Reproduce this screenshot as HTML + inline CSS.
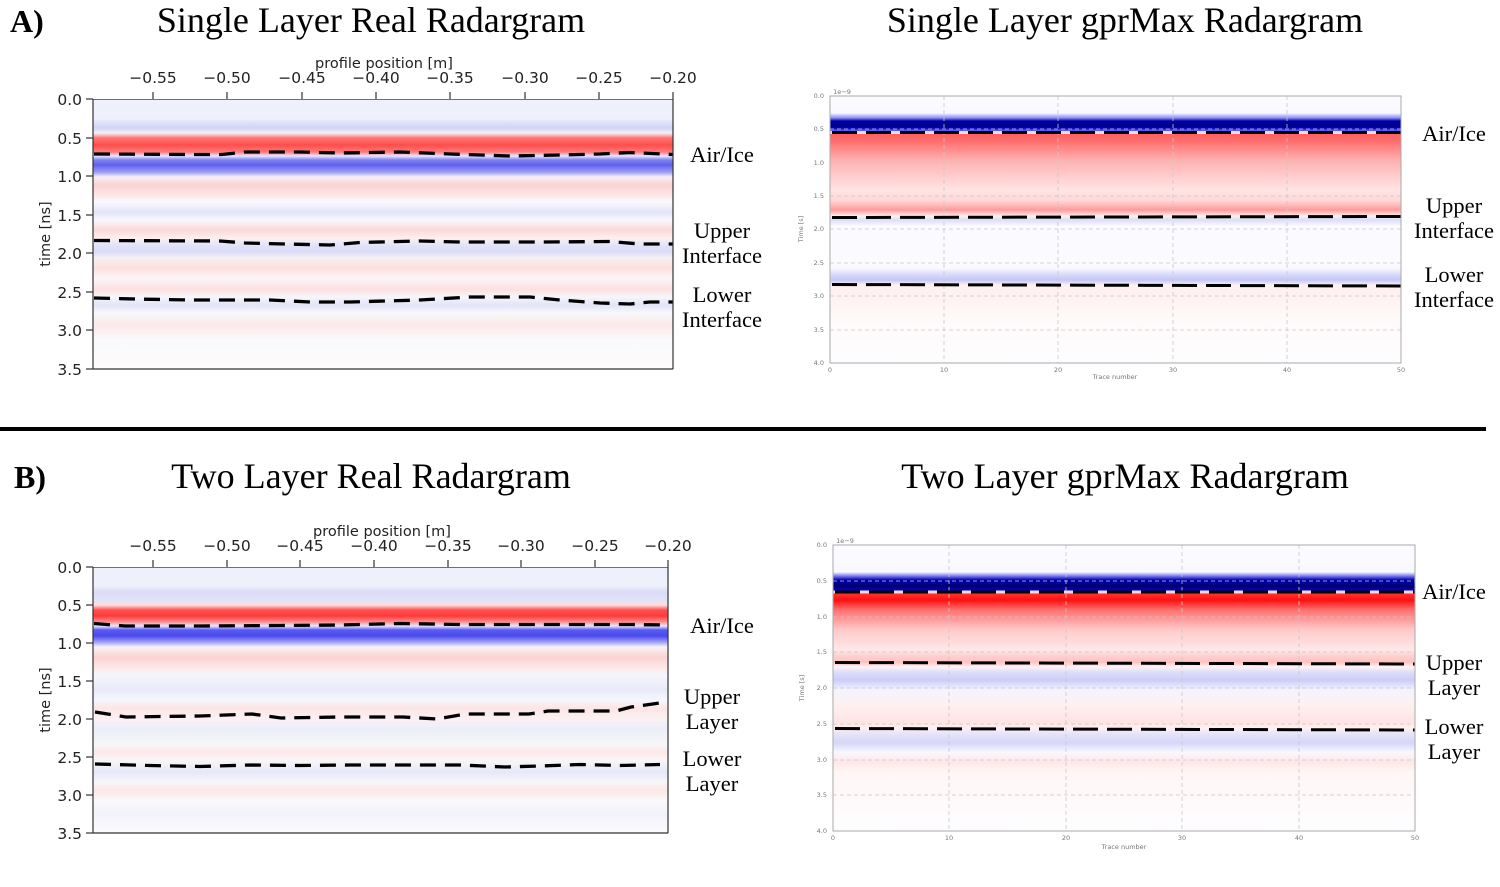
<!DOCTYPE html>
<html><head><meta charset="utf-8"><style>
html,body{margin:0;padding:0;background:#fff;}
svg{display:block;}
.serif{font-family:"Liberation Serif",serif;}
.sans{font-family:"DejaVu Sans","Liberation Sans",sans-serif;}
</style></head><body>
<svg width="1500" height="887" viewBox="0 0 1500 887" xmlns="http://www.w3.org/2000/svg">
<defs>
<linearGradient id="ar" gradientUnits="userSpaceOnUse" x1="0" y1="0" x2="0" y2="1000">
<stop offset="0.099" stop-color="#eef0fb"/><stop offset="0.119" stop-color="#eef0fb"/>
<stop offset="0.122" stop-color="#e0e3f8"/><stop offset="0.128" stop-color="#d0d4f6"/>
<stop offset="0.133" stop-color="#f4f0f6"/><stop offset="0.138" stop-color="#ff7474"/>
<stop offset="0.145" stop-color="#ff4d4d"/><stop offset="0.152" stop-color="#ff7a7a"/>
<stop offset="0.156" stop-color="#e8e8ff"/><stop offset="0.160" stop-color="#8080f2"/>
<stop offset="0.165" stop-color="#6060f0"/><stop offset="0.172" stop-color="#9c9cf4"/>
<stop offset="0.177" stop-color="#f8f0f4"/><stop offset="0.185" stop-color="#fbd2d2"/>
<stop offset="0.195" stop-color="#fde6e6"/><stop offset="0.202" stop-color="#fafafd"/>
<stop offset="0.212" stop-color="#e2e4f8"/><stop offset="0.220" stop-color="#f8f8fd"/>
<stop offset="0.230" stop-color="#fcd8d8"/><stop offset="0.238" stop-color="#fdf0f0"/>
<stop offset="0.246" stop-color="#e0e2f8"/><stop offset="0.252" stop-color="#dadcf8"/>
<stop offset="0.258" stop-color="#f8f0f2"/><stop offset="0.268" stop-color="#fde0e0"/>
<stop offset="0.278" stop-color="#fbf6f8"/><stop offset="0.290" stop-color="#fce0e0"/>
<stop offset="0.297" stop-color="#f6f6fb"/><stop offset="0.305" stop-color="#e2e4f8"/>
<stop offset="0.313" stop-color="#f8f8fb"/><stop offset="0.325" stop-color="#fde8e8"/>
<stop offset="0.340" stop-color="#fafafc"/><stop offset="0.369" stop-color="#fdfbfb"/>
</linearGradient>
<linearGradient id="as" gradientUnits="userSpaceOnUse" x1="0" y1="0" x2="0" y2="1000">
<stop offset="0.096" stop-color="#fcfcff"/><stop offset="0.113" stop-color="#f8f8ff"/>
<stop offset="0.118" stop-color="#8a8af0"/><stop offset="0.121" stop-color="#0000b0"/>
<stop offset="0.125" stop-color="#000080"/><stop offset="0.128" stop-color="#0000c0"/>
<stop offset="0.131" stop-color="#6a6af5"/><stop offset="0.133" stop-color="#ff6060"/>
<stop offset="0.140" stop-color="#ff6a6a"/><stop offset="0.160" stop-color="#ffb0b0"/>
<stop offset="0.190" stop-color="#ffe4e4"/><stop offset="0.200" stop-color="#ffdada"/>
<stop offset="0.210" stop-color="#ff9a9a"/><stop offset="0.216" stop-color="#fff0f0"/>
<stop offset="0.220" stop-color="#dcdcfa"/><stop offset="0.226" stop-color="#fafaff"/>
<stop offset="0.268" stop-color="#fbfbff"/><stop offset="0.275" stop-color="#d6d8fa"/>
<stop offset="0.280" stop-color="#c4c6f8"/><stop offset="0.285" stop-color="#fff0f0"/>
<stop offset="0.300" stop-color="#fff2f2"/><stop offset="0.320" stop-color="#fffafa"/>
<stop offset="0.363" stop-color="#fdfdff"/>
</linearGradient>
<linearGradient id="br" gradientUnits="userSpaceOnUse" x1="0" y1="0" x2="0" y2="1000">
<stop offset="0.567" stop-color="#eef0fb"/><stop offset="0.586" stop-color="#eef0fb"/>
<stop offset="0.592" stop-color="#dadcf8"/><stop offset="0.600" stop-color="#e0e2f8"/>
<stop offset="0.605" stop-color="#fbe0e0"/><stop offset="0.610" stop-color="#ff5050"/>
<stop offset="0.616" stop-color="#ff3a3a"/><stop offset="0.622" stop-color="#ff9090"/>
<stop offset="0.626" stop-color="#e8e8ff"/><stop offset="0.630" stop-color="#5a5af0"/>
<stop offset="0.636" stop-color="#4a4aee"/><stop offset="0.642" stop-color="#a0a0f4"/>
<stop offset="0.647" stop-color="#f8f2f4"/><stop offset="0.657" stop-color="#fcd2d2"/>
<stop offset="0.667" stop-color="#fde6e6"/><stop offset="0.675" stop-color="#f6f6fc"/>
<stop offset="0.690" stop-color="#e8eaf9"/><stop offset="0.700" stop-color="#f6f6fc"/>
<stop offset="0.708" stop-color="#fce4e4"/><stop offset="0.718" stop-color="#fbf0f2"/>
<stop offset="0.730" stop-color="#eceefa"/><stop offset="0.745" stop-color="#f8f6f8"/>
<stop offset="0.752" stop-color="#fce8e8"/><stop offset="0.760" stop-color="#f9f6f8"/>
<stop offset="0.772" stop-color="#e6e8f9"/><stop offset="0.782" stop-color="#f8f6f8"/>
<stop offset="0.790" stop-color="#fce6e6"/><stop offset="0.800" stop-color="#faf8fa"/>
<stop offset="0.815" stop-color="#f2f3fb"/><stop offset="0.833" stop-color="#fcfbfc"/>
</linearGradient>
<linearGradient id="bs" gradientUnits="userSpaceOnUse" x1="0" y1="0" x2="0" y2="1000">
<stop offset="0.545" stop-color="#fcfcff"/><stop offset="0.572" stop-color="#f8f8ff"/>
<stop offset="0.576" stop-color="#7a7af0"/><stop offset="0.580" stop-color="#0000b0"/>
<stop offset="0.586" stop-color="#000070"/><stop offset="0.590" stop-color="#0000c0"/>
<stop offset="0.594" stop-color="#ff3030"/><stop offset="0.600" stop-color="#ff1010"/>
<stop offset="0.610" stop-color="#ff7070"/><stop offset="0.630" stop-color="#ffcaca"/>
<stop offset="0.650" stop-color="#ffe8e8"/><stop offset="0.656" stop-color="#ffd0d0"/>
<stop offset="0.662" stop-color="#ffc0c0"/><stop offset="0.667" stop-color="#fff4f4"/>
<stop offset="0.672" stop-color="#dedefa"/><stop offset="0.680" stop-color="#ccccf8"/>
<stop offset="0.690" stop-color="#f4f4ff"/><stop offset="0.705" stop-color="#fff0f0"/>
<stop offset="0.722" stop-color="#ffe4e4"/><stop offset="0.728" stop-color="#fff0f0"/>
<stop offset="0.735" stop-color="#e2e2fa"/><stop offset="0.743" stop-color="#d6d6f8"/>
<stop offset="0.752" stop-color="#f8f8ff"/><stop offset="0.762" stop-color="#ffe6e6"/>
<stop offset="0.772" stop-color="#fff6f6"/><stop offset="0.831" stop-color="#fdfdff"/>
</linearGradient>
</defs>

<!-- Titles -->
<text x="10" y="32" class="serif" font-size="32" font-weight="bold">A)</text>
<text x="371" y="32" class="serif" font-size="36" text-anchor="middle">Single Layer Real Radargram</text>
<text x="1125" y="32" class="serif" font-size="36" text-anchor="middle">Single Layer gprMax Radargram</text>
<rect x="0" y="427" width="1486" height="4" fill="#000"/>
<text x="14" y="488" class="serif" font-size="32" font-weight="bold">B)</text>
<text x="371" y="488" class="serif" font-size="36" text-anchor="middle">Two Layer Real Radargram</text>
<text x="1125" y="488" class="serif" font-size="36" text-anchor="middle">Two Layer gprMax Radargram</text>

<!-- ===== A real ===== -->
<rect x="93" y="99" width="580" height="270" fill="url(#ar)"/>
<line x1="93" y1="99.5" x2="673" y2="99.5" stroke="#e04040" stroke-width="1"/>
<g fill="none" stroke="#000" stroke-width="3.3" stroke-dasharray="16,9">
<polyline points="94,154 200,154.5 222,154.5 245,152 300,152 340,153 400,152 450,154 510,156 560,155 600,154 630,152.5 673,154.5"/>
<polyline points="94,240.5 220,241 245,243 285,244 330,245 360,242.5 420,241 460,242 540,242 610,241.5 640,244 673,244"/>
<polyline points="94,298 135,299 190,300 270,300 310,302 350,302 420,300 470,297 530,297 560,300 600,303 630,304 650,302 673,302"/>
</g>
<g stroke="#333" stroke-width="1.2">
<line x1="93" y1="99" x2="93" y2="369"/><line x1="673" y1="99" x2="673" y2="369"/><line x1="93" y1="369" x2="673" y2="369"/>
<line x1="86" y1="99" x2="93" y2="99"/><line x1="86" y1="138" x2="93" y2="138"/><line x1="86" y1="176" x2="93" y2="176"/><line x1="86" y1="215" x2="93" y2="215"/><line x1="86" y1="253" x2="93" y2="253"/><line x1="86" y1="292" x2="93" y2="292"/><line x1="86" y1="330" x2="93" y2="330"/><line x1="86" y1="369" x2="93" y2="369"/>
<line x1="153" y1="92" x2="153" y2="99"/><line x1="227" y1="92" x2="227" y2="99"/><line x1="302" y1="92" x2="302" y2="99"/><line x1="376" y1="92" x2="376" y2="99"/><line x1="450" y1="92" x2="450" y2="99"/><line x1="525" y1="92" x2="525" y2="99"/><line x1="599" y1="92" x2="599" y2="99"/><line x1="673" y1="92" x2="673" y2="99"/>
</g>
<g class="sans" font-size="15.5" fill="#222" text-anchor="end">
<text x="82" y="105">0.0</text><text x="82" y="144">0.5</text><text x="82" y="182">1.0</text><text x="82" y="221">1.5</text><text x="82" y="259">2.0</text><text x="82" y="298">2.5</text><text x="82" y="336">3.0</text><text x="82" y="375">3.5</text>
</g>
<g class="sans" font-size="15.5" fill="#222" text-anchor="middle">
<text x="153" y="83">−0.55</text><text x="227" y="83">−0.50</text><text x="302" y="83">−0.45</text><text x="376" y="83">−0.40</text><text x="450" y="83">−0.35</text><text x="525" y="83">−0.30</text><text x="599" y="83">−0.25</text><text x="673" y="83">−0.20</text>
<text x="384" y="68" font-size="14.5">profile position [m]</text>
</g>
<text transform="translate(50,234) rotate(-90)" class="sans" font-size="14.5" fill="#222" text-anchor="middle">time [ns]</text>
<g class="serif" font-size="22.5" text-anchor="middle">
<text x="722" y="162">Air/Ice</text><text x="722" y="238">Upper</text><text x="722" y="263">Interface</text><text x="722" y="302">Lower</text><text x="722" y="327">Interface</text>
</g>

<!-- ===== A sim ===== -->
<rect x="830" y="96" width="571" height="267" fill="url(#as)"/>
<g stroke="#c8c8c8" stroke-width="0.8" stroke-dasharray="4,3">
<line x1="944" y1="96" x2="944" y2="363"/><line x1="1058" y1="96" x2="1058" y2="363"/><line x1="1173" y1="96" x2="1173" y2="363"/><line x1="1287" y1="96" x2="1287" y2="363"/>
<line x1="830" y1="129" x2="1401" y2="129"/><line x1="830" y1="163" x2="1401" y2="163"/><line x1="830" y1="196" x2="1401" y2="196"/><line x1="830" y1="229" x2="1401" y2="229"/><line x1="830" y1="263" x2="1401" y2="263"/><line x1="830" y1="296" x2="1401" y2="296"/><line x1="830" y1="330" x2="1401" y2="330"/>
</g>
<line x1="830" y1="132.5" x2="1401" y2="132.5" stroke="#f4dada" stroke-width="3"/>
<g fill="none" stroke="#000" stroke-width="3" stroke-dasharray="25,9">
<line x1="832" y1="132.5" x2="1401" y2="132.5"/>
<polyline points="832,217.5 1401,216.5"/>
<polyline points="832,284.5 1401,286"/>
</g>
<rect x="830" y="96" width="571" height="267" fill="none" stroke="#aaa" stroke-width="1"/>
<g class="sans" font-size="6.5" fill="#777" text-anchor="end">
<text x="824" y="98">0.0</text><text x="824" y="131">0.5</text><text x="824" y="165">1.0</text><text x="824" y="198">1.5</text><text x="824" y="231">2.0</text><text x="824" y="265">2.5</text><text x="824" y="298">3.0</text><text x="824" y="332">3.5</text><text x="824" y="365">4.0</text>
</g>
<g class="sans" font-size="6.5" fill="#777" text-anchor="middle">
<text x="830" y="372">0</text><text x="944" y="372">10</text><text x="1058" y="372">20</text><text x="1173" y="372">30</text><text x="1287" y="372">40</text><text x="1401" y="372">50</text>
<text x="1115" y="379">Trace number</text><text x="842" y="94">1e−9</text>
</g>
<text transform="translate(803,229) rotate(-90)" class="sans" font-size="6.5" fill="#777" text-anchor="middle">Time [s]</text>
<g class="serif" font-size="22.5" text-anchor="middle">
<text x="1454" y="141">Air/Ice</text><text x="1454" y="213">Upper</text><text x="1454" y="238">Interface</text><text x="1454" y="282">Lower</text><text x="1454" y="307">Interface</text>
</g>

<!-- ===== B real ===== -->
<rect x="93" y="567" width="575" height="266" fill="url(#br)"/>
<line x1="93" y1="567.5" x2="668" y2="567.5" stroke="#e04040" stroke-width="1"/>
<g fill="none" stroke="#000" stroke-width="3.3" stroke-dasharray="16,9">
<polyline points="94,623.5 125,626 200,626 280,625.5 340,625 400,623.5 460,624.5 560,624.5 630,624.5 668,625"/>
<polyline points="95,712 126,717 200,716 252,714 281,718 340,717 403,717 437,719 466,714 529,714 548,711 616,711 631,707 660,703"/>
<polyline points="95,764 150,765.5 200,766.5 250,765 300,765.5 350,765 420,765 460,765 505,767 540,766 580,764.5 620,765.5 660,764.5"/>
</g>
<g stroke="#333" stroke-width="1.2">
<line x1="93" y1="567" x2="93" y2="833"/><line x1="668" y1="567" x2="668" y2="833"/><line x1="93" y1="833" x2="668" y2="833"/>
<line x1="86" y1="567" x2="93" y2="567"/><line x1="86" y1="605" x2="93" y2="605"/><line x1="86" y1="643" x2="93" y2="643"/><line x1="86" y1="681" x2="93" y2="681"/><line x1="86" y1="719" x2="93" y2="719"/><line x1="86" y1="757" x2="93" y2="757"/><line x1="86" y1="795" x2="93" y2="795"/><line x1="86" y1="833" x2="93" y2="833"/>
<line x1="153" y1="560" x2="153" y2="567"/><line x1="227" y1="560" x2="227" y2="567"/><line x1="300" y1="560" x2="300" y2="567"/><line x1="374" y1="560" x2="374" y2="567"/><line x1="448" y1="560" x2="448" y2="567"/><line x1="521" y1="560" x2="521" y2="567"/><line x1="595" y1="560" x2="595" y2="567"/><line x1="668" y1="560" x2="668" y2="567"/>
</g>
<g class="sans" font-size="15.5" fill="#222" text-anchor="end">
<text x="82" y="573">0.0</text><text x="82" y="611">0.5</text><text x="82" y="649">1.0</text><text x="82" y="687">1.5</text><text x="82" y="725">2.0</text><text x="82" y="763">2.5</text><text x="82" y="801">3.0</text><text x="82" y="839">3.5</text>
</g>
<g class="sans" font-size="15.5" fill="#222" text-anchor="middle">
<text x="153" y="551">−0.55</text><text x="227" y="551">−0.50</text><text x="300" y="551">−0.45</text><text x="374" y="551">−0.40</text><text x="448" y="551">−0.35</text><text x="521" y="551">−0.30</text><text x="595" y="551">−0.25</text><text x="668" y="551">−0.20</text>
<text x="382" y="536" font-size="14.5">profile position [m]</text>
</g>
<text transform="translate(50,700) rotate(-90)" class="sans" font-size="14.5" fill="#222" text-anchor="middle">time [ns]</text>
<g class="serif" font-size="22.5" text-anchor="middle">
<text x="722" y="633">Air/Ice</text><text x="712" y="704">Upper</text><text x="712" y="729">Layer</text><text x="712" y="766">Lower</text><text x="712" y="791">Layer</text>
</g>

<!-- ===== B sim ===== -->
<rect x="833" y="545" width="582" height="286" fill="url(#bs)"/>
<g stroke="#c8c8c8" stroke-width="0.8" stroke-dasharray="4,3">
<line x1="949" y1="545" x2="949" y2="831"/><line x1="1066" y1="545" x2="1066" y2="831"/><line x1="1182" y1="545" x2="1182" y2="831"/><line x1="1299" y1="545" x2="1299" y2="831"/>
<line x1="833" y1="581" x2="1415" y2="581"/><line x1="833" y1="617" x2="1415" y2="617"/><line x1="833" y1="652" x2="1415" y2="652"/><line x1="833" y1="688" x2="1415" y2="688"/><line x1="833" y1="724" x2="1415" y2="724"/><line x1="833" y1="760" x2="1415" y2="760"/><line x1="833" y1="795" x2="1415" y2="795"/>
</g>
<line x1="833" y1="592" x2="1415" y2="592" stroke="#f2d8d8" stroke-width="3"/>
<g fill="none" stroke="#000" stroke-width="3" stroke-dasharray="25,9">
<line x1="835" y1="592" x2="1415" y2="592"/>
<polyline points="835,662.5 1415,664"/>
<polyline points="835,728.5 1415,730"/>
</g>
<rect x="833" y="545" width="582" height="286" fill="none" stroke="#aaa" stroke-width="1"/>
<g class="sans" font-size="6.5" fill="#777" text-anchor="end">
<text x="827" y="547">0.0</text><text x="827" y="583">0.5</text><text x="827" y="619">1.0</text><text x="827" y="654">1.5</text><text x="827" y="690">2.0</text><text x="827" y="726">2.5</text><text x="827" y="762">3.0</text><text x="827" y="797">3.5</text><text x="827" y="833">4.0</text>
</g>
<g class="sans" font-size="6.5" fill="#777" text-anchor="middle">
<text x="833" y="840">0</text><text x="949" y="840">10</text><text x="1066" y="840">20</text><text x="1182" y="840">30</text><text x="1299" y="840">40</text><text x="1415" y="840">50</text>
<text x="1124" y="849">Trace number</text><text x="845" y="543">1e−9</text>
</g>
<text transform="translate(804,688) rotate(-90)" class="sans" font-size="6.5" fill="#777" text-anchor="middle">Time [s]</text>
<g class="serif" font-size="22.5" text-anchor="middle">
<text x="1454" y="599">Air/Ice</text><text x="1454" y="670">Upper</text><text x="1454" y="695">Layer</text><text x="1454" y="734">Lower</text><text x="1454" y="759">Layer</text>
</g>
</svg>
</body></html>
